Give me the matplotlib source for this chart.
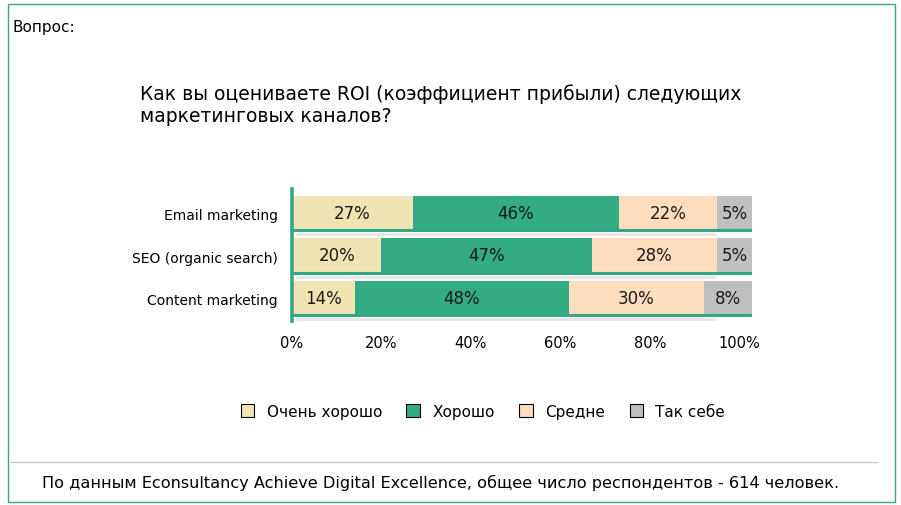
"""
    plot.py

    ROI of marketing channels, stacked horizontal bars
"""

import matplotlib.pyplot as plt
from matplotlib.patches import Rectangle
from matplotlib.lines import Line2D

categories = ["Email marketing", "SEO (organic search)", "Content marketing"]
series_names = ["Очень хорошо", "Хорошо", "Средне", "Так себе"]
very_good = [27, 20, 14]
good = [46, 47, 48]
average = [22, 28, 30]
so_so = [5, 5, 8]
tick_values = [0, 20, 40, 60, 80, 100]
tick_labels = ["0%", "20%", "40%", "60%", "80%", "100%"]

COLORS = ["#f0e4b4", "#33ab85", "#fedcbe", "#bfbfbf"]
GREEN = "#34a882"
X_MAX = 102.8

fig = plt.figure(figsize=(9.01, 5.06), dpi=100)
ax = fig.add_axes([292 / 901, 1 - 322 / 506, 460 / 901, 132 / 506])

series = [very_good, good, average, so_so]
ypos = list(range(len(categories)))
left = [0] * len(categories)
bar_h = 0.847
for k, (name, vals, col) in enumerate(zip(series_names, series, COLORS)):
    # last segment runs out to the edge of the plot area
    widths = vals if k < len(series) - 1 else [X_MAX - l for l in left]
    bars = ax.barh(ypos, widths, left=left, height=bar_h, color=col,
                   label=name, edgecolor="none")
    for b, v in zip(bars, vals):
        ax.text(b.get_x() + b.get_width() / 2,
                b.get_y() + b.get_height() / 2 - 0.03,
                f"{v}%", ha="center", va="center", fontsize=12, color="#1a1a1a")
    left = [l + v for l, v in zip(left, vals)]

# green line under each bar, with faint shadow
ax.hlines([y + bar_h / 2 - 0.035 for y in ypos], 0, X_MAX, colors=GREEN, lw=2.2)
ax.hlines([y + bar_h / 2 + 0.05 for y in ypos], 1, X_MAX - 8,
          colors="#e6e6e6", lw=2)

ax.set_xlim(0, X_MAX)
ax.set_ylim(2.518, -0.588)
ax.set_yticks(ypos)
ax.set_yticklabels(categories, fontsize=10)
ax.set_xticks(tick_values)
ax.set_xticklabels(tick_labels, fontsize=10.5)
ax.tick_params(length=0)
ax.tick_params(axis="x", pad=10)
ax.tick_params(axis="y", pad=10)
for s in ["top", "right", "bottom"]:
    ax.spines[s].set_visible(False)
ax.spines["left"].set_color(GREEN)
ax.spines["left"].set_linewidth(2.6)
ax.spines["left"].set_zorder(5)

handles = [Rectangle((0, 0), 1, 1, facecolor=c, edgecolor="black", lw=0.8)
           for c in COLORS]
fig.legend(handles, series_names, loc="center", bbox_to_anchor=(0.536, 0.185),
           ncol=4, frameon=False, fontsize=11, handlelength=0.9,
           handleheight=0.9, columnspacing=1.6, handletextpad=0.8)

fig.text(13 / 901, 0.946, "Вопрос:", fontsize=11, va="center")
fig.text(140 / 901, 0.792, "Как вы оцениваете ROI (коэффициент прибыли) следующих\n"
         "маркетинговых каналов?", fontsize=13.5, va="center", linespacing=1.2)
fig.text(42 / 901, 1 - 483 / 506, "По данным Econsultancy Achieve Digital "
         "Excellence, общее число респондентов - 614 человек.", fontsize=11.6,
         va="center")

# frame and separator
fig.add_artist(Rectangle((8 / 901, 1 - 503 / 506), 887 / 901, 498 / 506,
                         transform=fig.transFigure, fill=False,
                         edgecolor=GREEN, lw=1))
fig.add_artist(Line2D([10 / 901, 877 / 901], [1 - 463 / 506] * 2,
                      transform=fig.transFigure, color="#c8c8c8", lw=1))

fig.savefig("out.png", dpi=100)
